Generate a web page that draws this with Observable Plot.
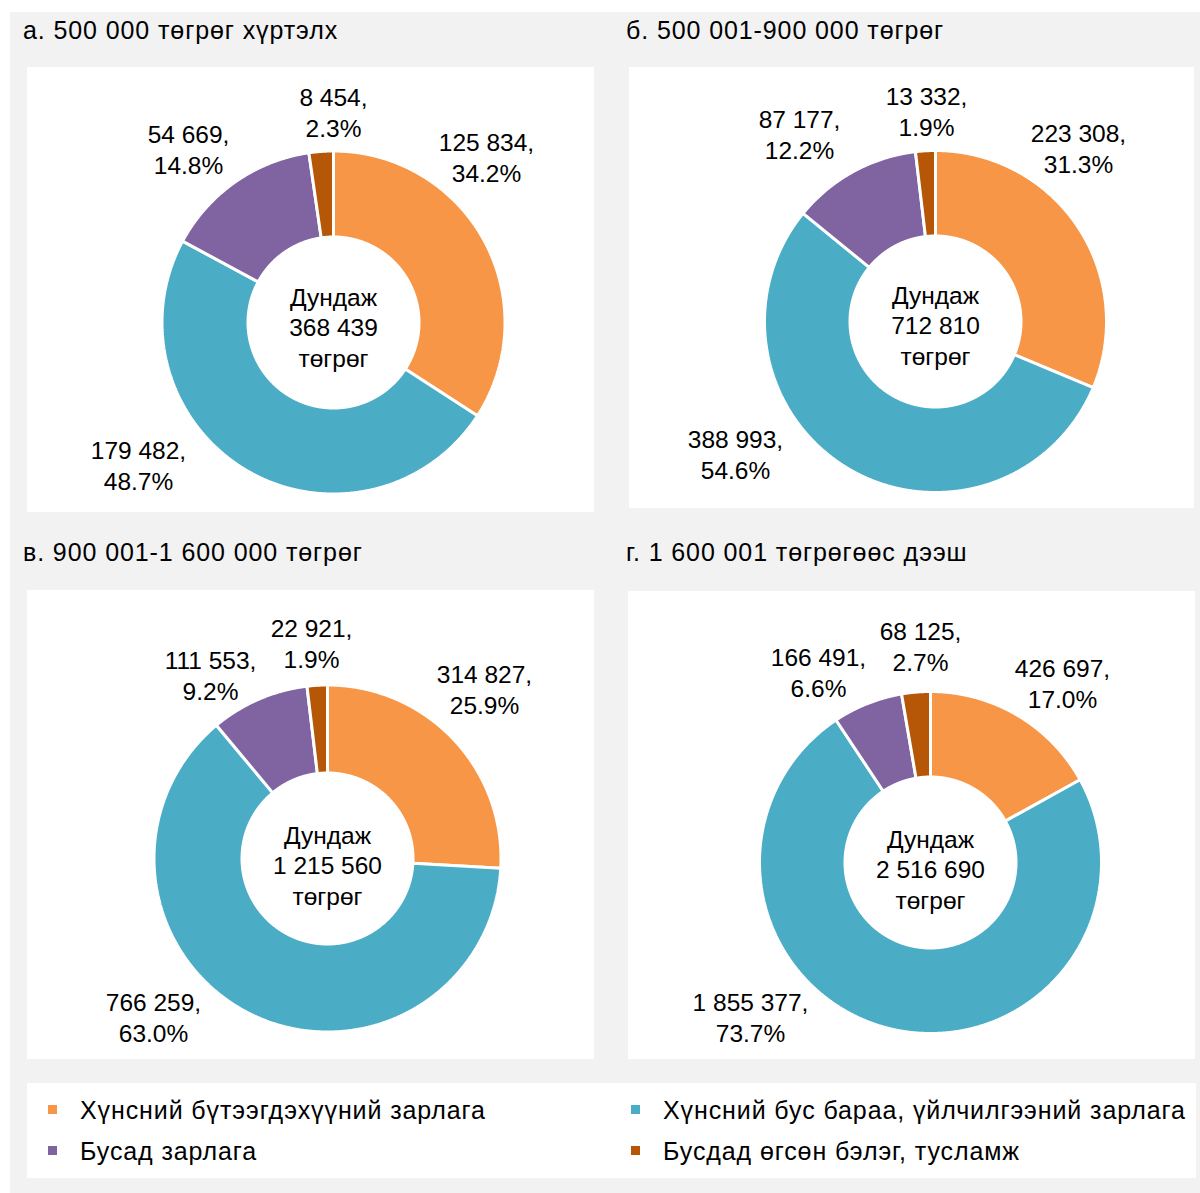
<!DOCTYPE html>
<html><head><meta charset="utf-8">
<script src="https://cdn.jsdelivr.net/npm/d3@7"></script>
<script src="https://cdn.jsdelivr.net/npm/@observablehq/plot@0.6"></script>
<style>
body{margin:0;background:#fff;font-family:"Liberation Sans",Arial,sans-serif;}
#root{position:relative;width:1200px;height:1193px;overflow:hidden;}
.bg{position:absolute;left:10px;top:12px;width:1190px;height:1181px;background:#f2f2f2;}
.panel{position:absolute;background:#fff;}
.panel svg{display:block;}
.title{position:absolute;font-size:25px;line-height:25px;letter-spacing:0.9px;color:#000;white-space:nowrap;}
.legend{position:absolute;left:27px;top:1083px;width:1169px;height:95px;background:#fff;}
.li{position:absolute;font-size:25px;line-height:25px;letter-spacing:0.9px;color:#000;white-space:nowrap;}
.sw{position:absolute;width:9px;height:9px;}
</style></head><body><div id="root"><div class="bg"></div></div>
<script>
// ---------- data ----------
const categories = [
  "Хүнсний бүтээгдэхүүний зарлага",
  "Хүнсний бус бараа, үйлчилгээний зарлага",
  "Бусад зарлага",
  "Бусдад өгсөн бэлэг, тусламж"
];
const panelTitles = [
  "а. 500 000 төгрөг хүртэлх",
  "б. 500 001-900 000 төгрөг",
  "в. 900 001-1 600 000 төгрөг",
  "г. 1 600 001 төгрөгөөс дээш"
];
const averages = [368439, 712810, 1215560, 2516690];
const valuesA = [125834, 179482, 54669, 8454];
const valuesB = [223308, 388993, 87177, 13332];
const valuesC = [314827, 766259, 111553, 22921];
const valuesD = [426697, 1855377, 166491, 68125];
const sharesA = [34.2, 48.7, 14.8, 2.3];
const sharesB = [31.3, 54.6, 12.2, 1.9];
const sharesC = [25.9, 63.0, 9.2, 1.9];
const sharesD = [17.0, 73.7, 6.6, 2.7];
const centerWord = "Дундаж";
const unitWord = "төгрөг";

// ---------- styles / layout ----------
const colors = ["#f79646", "#4bacc6", "#8064a2", "#b65708"];
const FONT = "Liberation Sans, Arial, sans-serif";
const layout = [
  {left:27, top:67, w:567, h:445, cx:306, cy:255, R:171.5, r:85.5, titleLeft:23, titleTop:17.5,
   lab:[[153,-166],[-195,142],[-145,-174],[0,-211]], mid:4},
  {left:629, top:67, w:565, h:441, cx:306, cy:254, R:171, r:85.5, titleLeft:626, titleTop:17.5,
   lab:[[143,-174],[-200,132],[-136,-188],[-9,-211]], mid:3},
  {left:27, top:590, w:567, h:469, cx:300, cy:268, R:173.5, r:85.5, titleLeft:23, titleTop:540,
   lab:[[157,-170],[-174,158],[-117,-184],[-16,-216]], mid:6},
  {left:628, top:591, w:567, h:468, cx:302, cy:271, R:171, r:85.5, titleLeft:626, titleTop:540,
   lab:[[132,-180],[-180,154],[-112,-191],[-10,-217]], mid:6}
];
const legendPos = [[21,15],[604,15],[21,56],[604,56]];

const fmt = d3.formatLocale({decimal:".", thousands:" ", grouping:[3], currency:["",""]}).format(",d");
const allValues = [valuesA, valuesB, valuesC, valuesD];
const allShares = [sharesA, sharesB, sharesC, sharesD];
const root = document.getElementById("root");

function slicePoints(a0, a1, R, r) {
  const pts = [];
  const n = Math.max(2, Math.ceil((a1 - a0) / (Math.PI / 720)));
  for (let i = 0; i <= n; i++) { const a = a0 + (a1 - a0) * i / n; pts.push({x: R*Math.sin(a), y: -R*Math.cos(a)}); }
  for (let i = n; i >= 0; i--) { const a = a0 + (a1 - a0) * i / n; pts.push({x: r*Math.sin(a), y: -r*Math.cos(a)}); }
  return pts;
}

allValues.forEach((vals, p) => {
  const L = layout[p];
  const t = document.createElement("div");
  t.className = "title"; t.style.left = L.titleLeft + "px"; t.style.top = L.titleTop + "px";
  t.textContent = panelTitles[p];
  root.appendChild(t);

  const arcs = d3.pie().sort(null).value(d => d)(vals);
  const sliceMarks = arcs.map((a, i) => Plot.line(slicePoints(a.startAngle, a.endAngle, L.R, L.r), {
    x: "x", y: "y", fill: colors[i], stroke: "white", strokeWidth: 3, curve: "linear-closed", strokeLinejoin: "miter"
  }));
  const labels = vals.map((v, i) => ({x: L.lab[i][0], y: L.lab[i][1], text: fmt(v) + ",\n" + allShares[p][i].toFixed(1) + "%"}));
  const center = [{x: 0, y: L.mid, text: centerWord + "\n" + fmt(averages[p]) + "\n" + unitWord}];

  const chart = Plot.plot({
    width: L.w, height: L.h, margin: 0,
    style: {fontFamily: FONT, background: "white", overflow: "visible"},
    x: {domain: [-L.cx, L.w - L.cx], range: [0, L.w], axis: null},
    y: {domain: [-L.cy, L.h - L.cy], range: [0, L.h], axis: null},
    marks: [
      ...sliceMarks,
      Plot.text(labels, {x: "x", y: "y", text: "text", fontSize: 24.5, lineHeight: 1.26, fill: "black", fontFamily: FONT}),
      Plot.text(center, {x: "x", y: "y", text: "text", fontSize: 24.5, lineHeight: 1.26, fill: "black", fontFamily: FONT})
    ]
  });
  const div = document.createElement("div");
  div.className = "panel";
  div.style.left = L.left + "px"; div.style.top = L.top + "px";
  div.style.width = L.w + "px"; div.style.height = L.h + "px";
  div.appendChild(chart);
  root.appendChild(div);
});

// legend
const leg = document.createElement("div");
leg.className = "legend";
categories.forEach((c, i) => {
  const [lx, ly] = legendPos[i];
  const sw = document.createElement("div");
  sw.className = "sw"; sw.style.background = colors[i];
  sw.style.left = lx + "px"; sw.style.top = (ly + 7) + "px";
  const tx = document.createElement("div");
  tx.className = "li"; tx.textContent = c;
  tx.style.left = (lx + 32) + "px"; tx.style.top = ly + "px";
  leg.appendChild(sw); leg.appendChild(tx);
});
root.appendChild(leg);
</script></body></html>
